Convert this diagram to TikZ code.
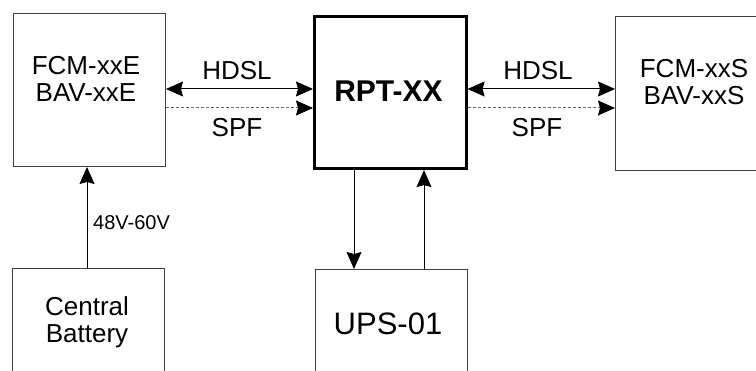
\documentclass[tikz,border=0pt]{standalone}
\usepackage{fontspec}
\setmainfont{Liberation Sans}
\usetikzlibrary{arrows.meta}
\begin{document}
\begin{tikzpicture}[x=1pt,y=-1pt,
  box/.style={draw=black!75,line width=1pt,inner sep=0pt,anchor=north west},
  mainbox/.style={draw=black,line width=2.6pt,inner sep=0pt,anchor=north west},
  lbl/.style={inner sep=0pt,align=center,font=\fontsize{26}{27}\selectfont},
  conn/.style={line width=1pt,draw=black},
  dconn/.style={line width=1pt,draw=black!60,dash pattern=on 3pt off 2pt,
    -{Stealth[length=17pt,width=15pt,inset=2pt,color=black]}},
  >={Stealth[length=17pt,width=15pt,inset=2pt]}]
\useasboundingbox (0,0) rectangle (756,371);
\clip (0,0) rectangle (756,371);
% boxes
\node[box,minimum width=152,minimum height=153] (fcmE) at (13,13) {};
\node[mainbox,minimum width=152,minimum height=152] (rpt) at (313,15.5) {};
\node[box,minimum width=153,minimum height=154] (fcmS) at (615,16.5) {};
\node[box,minimum width=152,minimum height=160] (bat) at (12,268) {};
\node[box,minimum width=152,minimum height=160] (ups) at (315,269) {};
% box texts
\node[lbl] (tE) at (86,79) {FCM-xxE\\BAV-xxE};
\node[lbl] (tS) at (694,82) {FCM-xxS\\BAV-xxS};
\node[lbl] (tB) at (87,322) {Central\\Battery};
\node[inner sep=0pt,anchor=base,font=\fontsize{31}{31}\selectfont] (tU) at (388,335) {UPS-01};
\node[inner sep=0pt,anchor=base,font=\fontsize{30}{30}\selectfont\bfseries] (tR) at (388.5,101.5) {RPT-XX};
% horizontal links
\draw[conn,<->] (fcmE.east |- 0,89) -- (rpt.west |- 0,89);
\draw[dconn] (fcmE.east |- 0,108) -- (rpt.west |- 0,108);
\draw[conn,<->] (rpt.east |- 0,89) -- (fcmS.west |- 0,89);
\draw[dconn] (rpt.east |- 0,108) -- (fcmS.west |- 0,108);
\node[lbl,anchor=base] (hdsl1) at (237,80) {HDSL};
\node[lbl,anchor=base] (spf1) at (237,137) {SPF};
\node[lbl,anchor=base] (hdsl2) at (538,80) {HDSL};
\node[lbl,anchor=base] (spf2) at (537,137) {SPF};
% vertical links
\draw[conn,->] (bat.north -| 87,0) -- (fcmE.south -| 87,0);
\node[inner sep=0pt,anchor=base west,font=\fontsize{20}{20}\selectfont] (volt) at (93,230) {48V-60V};
\draw[conn,->] (rpt.south -| 354,0) -- (ups.north -| 354,0);
\draw[conn,->] (ups.north -| 424,0) -- (rpt.south -| 424,0);
\end{tikzpicture}
\end{document}
